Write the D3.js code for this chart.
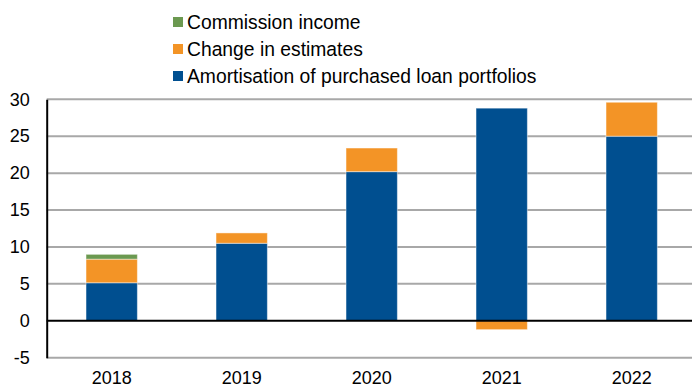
<!DOCTYPE html>
<html>
<head>
<meta charset="utf-8">
<script src="https://cdn.jsdelivr.net/npm/d3@7"></script>
<style>
  html, body { margin: 0; padding: 0; background: #fff; }
  svg { display: block; font-family: "Liberation Sans", Arial, sans-serif; }
</style>
</head>
<body>
<svg id="chart" width="692" height="387"></svg>
<script>
// Income components by year (EUR m)
const years = ["2018", "2019", "2020", "2021", "2022"];
const amortisation = [5.15, 10.5, 20.2, 28.8, 25.0];
const changeInEstimates = [3.2, 1.4, 3.2, -1.2, 4.6];
const commissionIncome = [0.65, 0, 0, 0, 0];
const yTicks = [-5, 0, 5, 10, 15, 20, 25, 30];

const seriesNames = ["Amortisation of purchased loan portfolios", "Change in estimates", "Commission income"];
const seriesKeys = ["amortisation", "change", "commission"];
const colors = { amortisation: "#004f90", change: "#f39426", commission: "#6b9950" };

const rows = years.map((yr, i) => ({
  year: yr,
  amortisation: amortisation[i],
  change: changeInEstimates[i],
  commission: commissionIncome[i]
}));

const svg = d3.select("#chart");
const plotLeft = 46.7, plotRight = 696.7, plotTop = 99.3, plotBottom = 357.7;

const x = d3.scaleBand().domain(years).range([plotLeft, plotRight])
  .paddingInner(0.605).paddingOuter(0.3025);
const y = d3.scaleLinear().domain([-5, 30]).range([plotBottom, plotTop]);

// Horizontal gridlines
svg.append("g").selectAll("line").data(yTicks.filter(t => t !== 0)).join("line")
  .attr("x1", plotLeft).attr("x2", 692)
  .attr("y1", d => y(d)).attr("y2", d => y(d))
  .attr("stroke", "#a8a8a8").attr("stroke-width", 2);

// Stacked bars
const stack = d3.stack().keys(seriesKeys).offset(d3.stackOffsetDiverging);
const stacked = stack(rows);

svg.append("g").selectAll("g").data(stacked).join("g")
  .attr("fill", d => colors[d.key])
  .selectAll("rect").data(d => d.filter(s => s[1] - s[0] !== 0)).join("rect")
  .attr("x", d => x(d.data.year))
  .attr("width", x.bandwidth())
  .attr("y", d => y(Math.max(d[0], d[1])))
  .attr("height", d => Math.abs(y(d[0]) - y(d[1])))
  .attr("stroke", "rgba(255,255,255,0.45)")
  .attr("stroke-width", 1);

// Zero line
svg.append("line")
  .attr("x1", plotLeft).attr("x2", 692)
  .attr("y1", y(0)).attr("y2", y(0))
  .attr("stroke", "#000").attr("stroke-width", 2);

// Y axis (plain hyphen for negatives)
const yAxis = svg.append("g")
  .attr("transform", `translate(${plotLeft},0)`)
  .call(d3.axisLeft(y).tickValues(yTicks).tickSize(0).tickPadding(17).tickFormat(d => String(d)));
yAxis.select(".domain").attr("stroke", "#000").attr("stroke-width", 2);
yAxis.selectAll("text").attr("font-size", 18).attr("fill", "#000")
  .attr("font-family", "Liberation Sans, Arial, sans-serif");

// X axis labels
const xAxis = svg.append("g")
  .attr("transform", `translate(0,${plotBottom})`)
  .call(d3.axisBottom(x).tickSize(0).tickPadding(14));
xAxis.select(".domain").remove();
xAxis.selectAll("text").attr("font-size", 18).attr("fill", "#000")
  .attr("font-family", "Liberation Sans, Arial, sans-serif");

// Legend (top-down order)
const legendItems = [
  { key: "commission", name: seriesNames[2] },
  { key: "change", name: seriesNames[1] },
  { key: "amortisation", name: seriesNames[0] }
];
const legend = svg.append("g").selectAll("g").data(legendItems).join("g")
  .attr("transform", (d, i) => `translate(173,${22 + i * 27})`);
legend.append("rect")
  .attr("x", 0).attr("y", -5).attr("width", 10).attr("height", 10)
  .attr("fill", d => colors[d.key]);
legend.append("text")
  .attr("x", 14).attr("y", 6.5)
  .attr("font-size", 19.3).attr("fill", "#000")
  .text(d => d.name);
</script>
</body>
</html>
